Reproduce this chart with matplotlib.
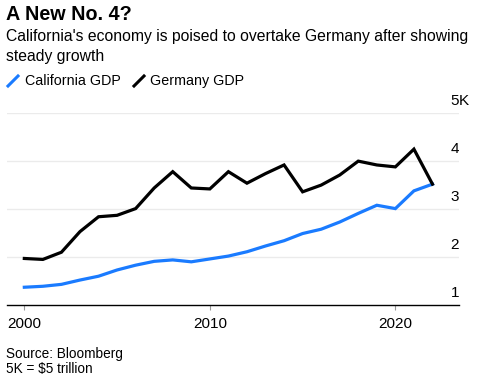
import matplotlib
matplotlib.use("Agg")
import matplotlib.pyplot as plt
from matplotlib.lines import Line2D

years = list(range(2000, 2023))
california = [1.36, 1.38, 1.42, 1.51, 1.59, 1.72, 1.82, 1.90, 1.93, 1.89, 1.95, 2.01,
              2.10, 2.22, 2.33, 2.48, 2.57, 2.72, 2.90, 3.07, 3.00, 3.37, 3.51]
germany = [1.96, 1.94, 2.09, 2.52, 2.83, 2.86, 3.00, 3.43, 3.77, 3.43, 3.41, 3.77,
           3.53, 3.73, 3.91, 3.35, 3.49, 3.70, 3.99, 3.91, 3.87, 4.24, 3.51]
x_ticks = [2000, 2010, 2020]
y_ticks = [1, 2, 3, 4, 5]
y_labels = ["1", "2", "3", "4", "5K"]

FONT = "Liberation Sans"
plt.rcParams["font.family"] = [FONT, "DejaVu Sans"]

W, H = 478, 380
fig = plt.figure(figsize=(W / 100, H / 100), dpi=100)
ax_left, ax_right, ax_bot, ax_top = 6.7, 459, 304.5, 112.7
ax = fig.add_axes([ax_left / W, 1 - ax_bot / H, (ax_right - ax_left) / W, (ax_bot - ax_top) / H])

blue = "#1a7bff"
ax.plot(years, california, color=blue, lw=2.3, solid_joinstyle="miter", zorder=3)
ax.plot(years, germany, color="black", lw=2.3, solid_joinstyle="miter", zorder=3)

ax.set_xlim(1999.05, 2023.43)
ax.set_ylim(1, 5)
for v in y_ticks[1:]:
    ax.axhline(v, color="#ebebeb", lw=1, zorder=1)
for s in ["top", "right", "left"]:
    ax.spines[s].set_visible(False)
ax.spines["bottom"].set_color("black")
ax.spines["bottom"].set_linewidth(1)
ax.set_yticks([])
ax.set_xticks(x_ticks)
ax.set_xticklabels([str(t) for t in x_ticks], fontsize=11)
ax.tick_params(axis="x", length=3.5, width=0.8, color="#999999", pad=5.5)

# right-side labels above gridlines
trans = ax.get_yaxis_transform()
for v, lab in zip(y_ticks, y_labels):
    if lab.endswith("K"):
        ax.text(1.0, v + 0.1, lab[:-1], transform=trans, ha="right", va="bottom",
                fontsize=11, clip_on=False)
        ax.text(1.0, v + 0.1, lab[-1], transform=trans, ha="left", va="bottom",
                fontsize=11, clip_on=False)
    else:
        ax.text(1.0, v + 0.1, lab, transform=trans, ha="right", va="bottom",
                fontsize=11, clip_on=False)

fig.text(6 / W, 1 - 14 / H, "A New No. 4?", fontsize=14.2, fontweight="bold",
         va="center", ha="left")
fig.text(6 / W, 1 - 37 / H, "California's economy is poised to overtake Germany after showing",
         fontsize=11.3, va="center", ha="left")
fig.text(6 / W, 1 - 57 / H, "steady growth", fontsize=11.3, va="center", ha="left")

# legend
ly = 1 - 81 / H
fig.add_artist(Line2D([8 / W, 18 / W], [1 - 86 / H, 1 - 76 / H], color=blue, lw=2.2,
                      transform=fig.transFigure))
fig.text(25 / W, ly, "California GDP", fontsize=10.3, va="center", ha="left")
fig.add_artist(Line2D([134 / W, 144 / W], [1 - 86 / H, 1 - 76 / H], color="black", lw=2.2,
                      transform=fig.transFigure))
fig.text(150 / W, ly, "Germany GDP", fontsize=10.3, va="center", ha="left")

fig.text(6 / W, 1 - 354 / H, "Source: Bloomberg", fontsize=9.8, va="center", ha="left")
fig.text(6 / W, 1 - 369 / H, "5K = $5 trillion", fontsize=9.8, va="center", ha="left")

fig.savefig("out.png", dpi=100)
